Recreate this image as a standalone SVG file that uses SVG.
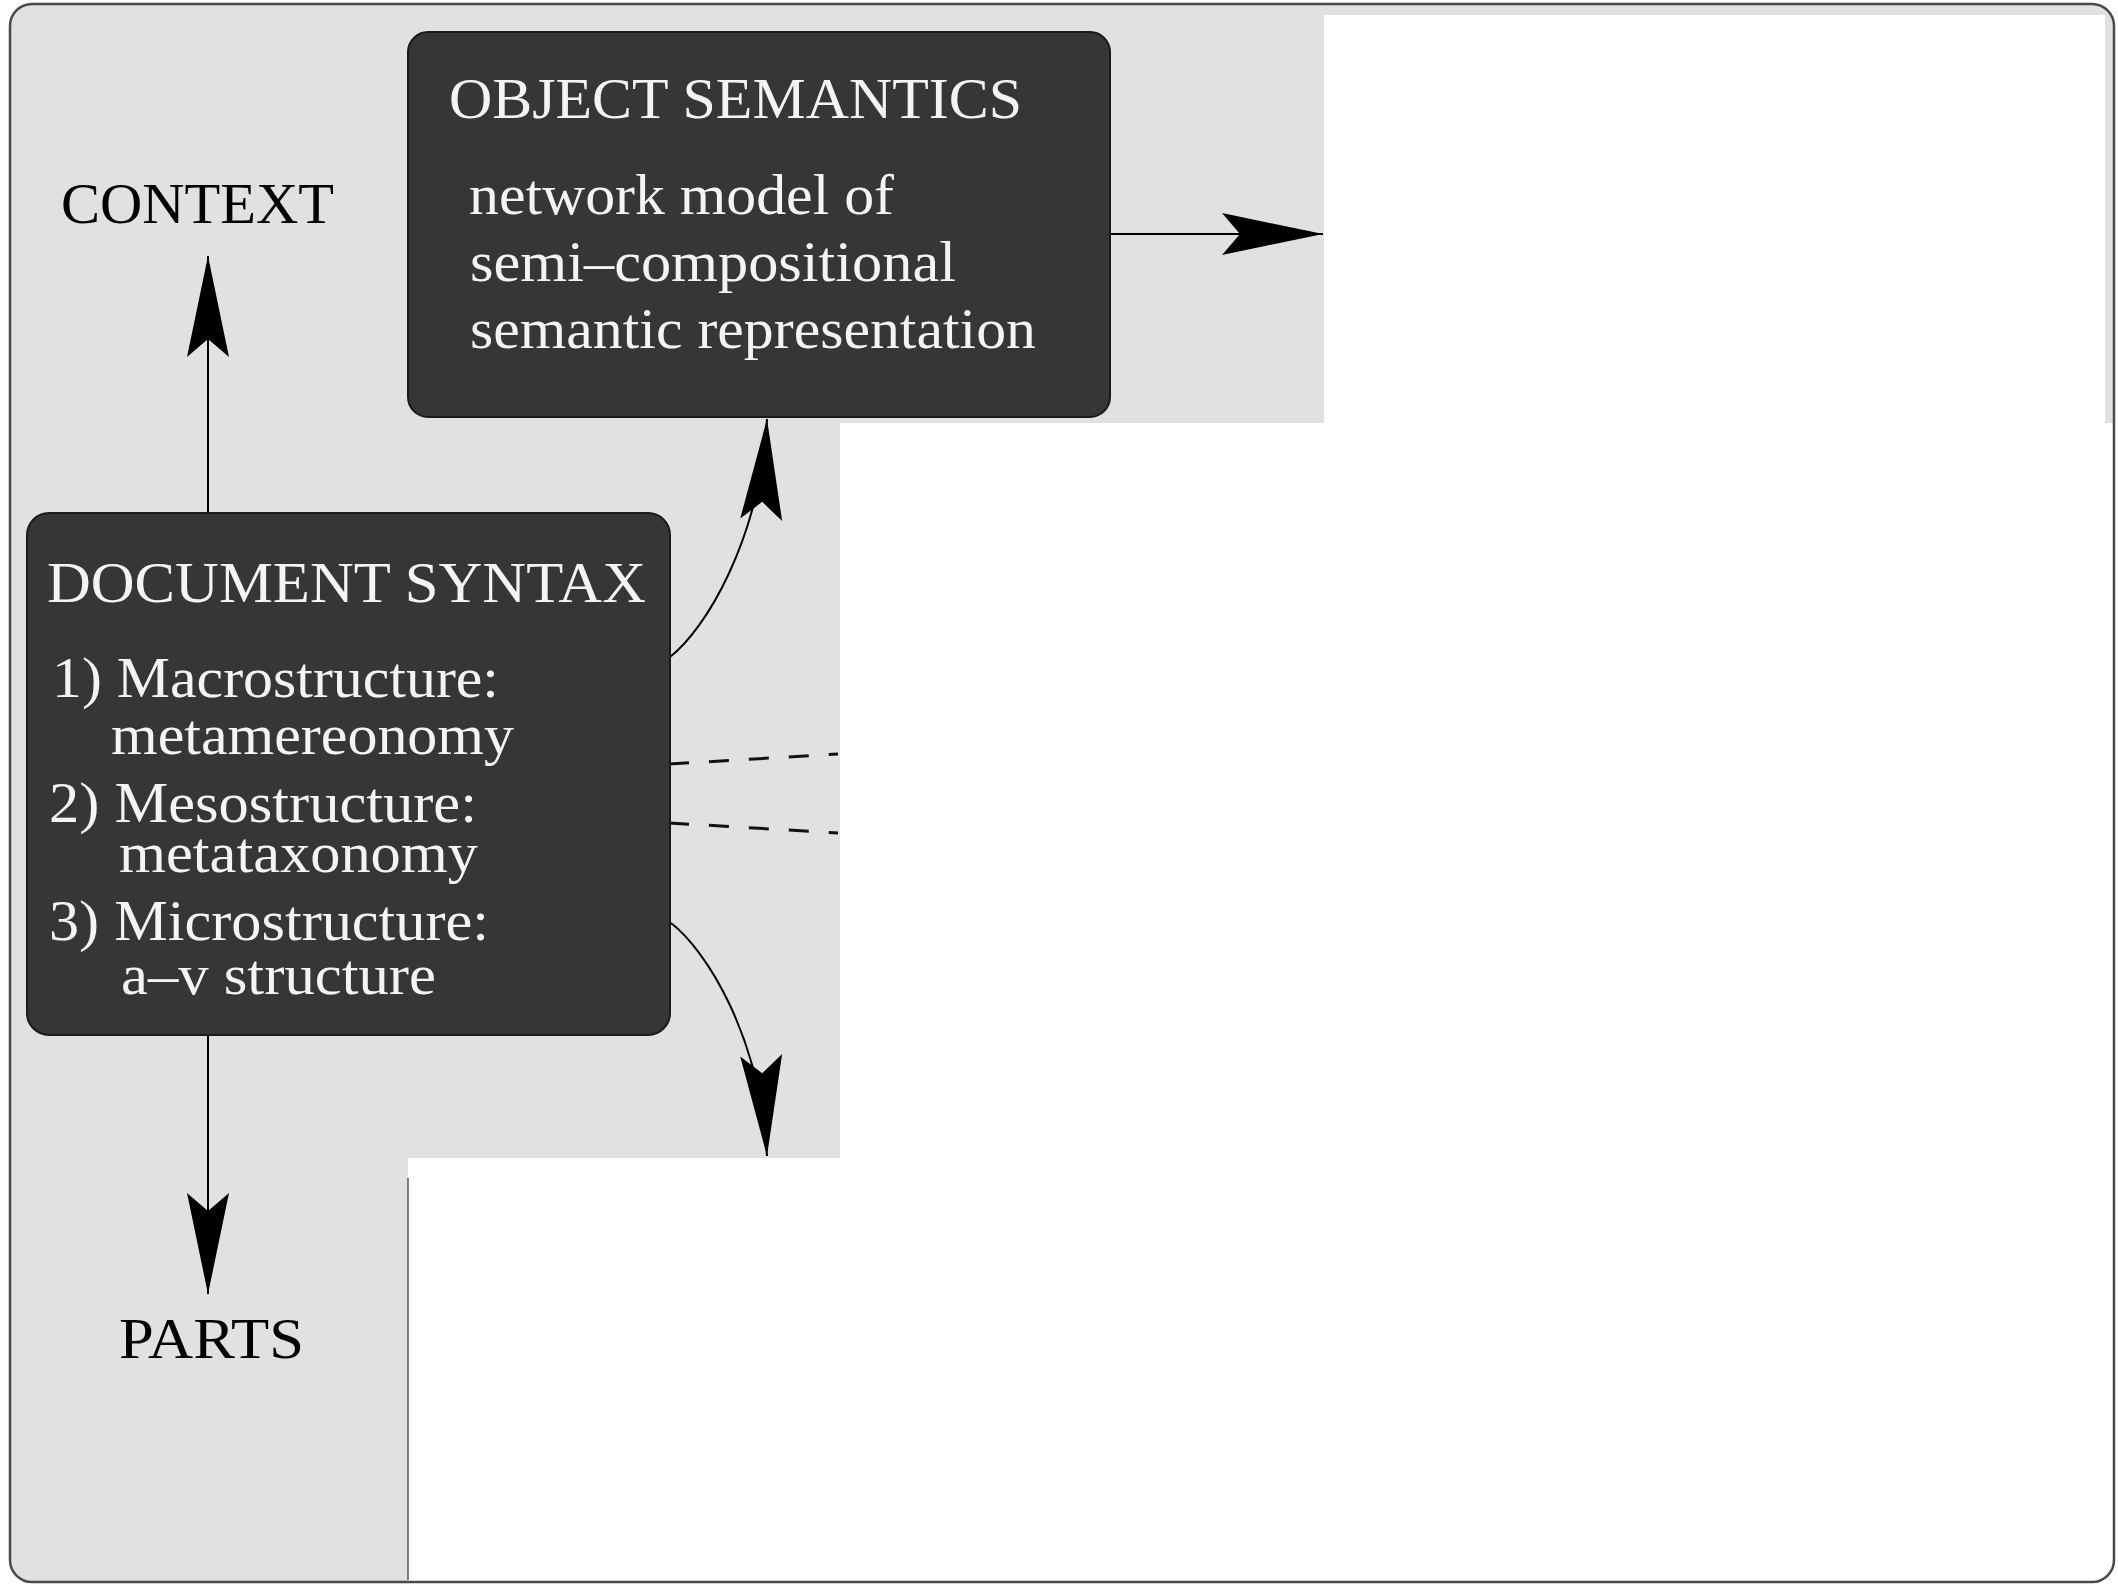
<svg xmlns="http://www.w3.org/2000/svg" width="2118" height="1587" viewBox="0 0 2118 1587">
<defs>
<marker id="ah" markerUnits="userSpaceOnUse" markerWidth="110" markerHeight="50" viewBox="-105 -25 110 50" refX="0" refY="0" orient="auto">
<path d="M0,0 L-101,-21 L-83,0 L-101,21 Z" fill="#000"/>
</marker>
</defs>
<style>
.lbl{font-family:"Liberation Serif","Times New Roman",serif;font-size:56px;fill:#000}
.wt{font-family:"Liberation Serif","Times New Roman",serif;font-size:56px;fill:#f4f4f4}
.box{fill:#363636;stroke:#1a1a1a;stroke-width:2}
.con{fill:none;stroke:#000;stroke-width:2}
.dash{fill:none;stroke:#111;stroke-width:3;stroke-dasharray:20 20}
.blank{fill:#fff}
</style>
<rect x="0" y="0" width="2118" height="1587" fill="#fff"/>
<rect x="10" y="4" width="2104" height="1578" rx="22" fill="#e1e1e1"/>
<rect class="blank" x="1324" y="15" width="781" height="408"/>
<rect class="blank" x="840" y="423" width="1276" height="735"/>
<rect class="blank" x="408" y="1158" width="1708" height="426"/>
<line x1="408" y1="1178" x2="408" y2="1580" stroke="#555" stroke-width="1.5"/>
<rect x="10" y="4" width="2104" height="1578" rx="22" fill="none" stroke="#4a4a4a" stroke-width="2.5"/>

<g id="connectors">
<path class="con" d="M208,513 L208,256" marker-end="url(#ah)"/>
<path class="con" d="M208,1035 L208,1294" marker-end="url(#ah)"/>
<path class="con" d="M1110,234 L1323,234" marker-end="url(#ah)"/>
<path class="con" d="M670,657 C705,630 760,540 767,419" marker-end="url(#ah)"/>
<path class="con" d="M671,923 C706,950 760,1035 767,1156" marker-end="url(#ah)"/>
<path class="dash" d="M669,764 L838,754"/>
<path class="dash" d="M669,823 L838,833"/>
</g>

<g id="object-semantics">
<rect class="box" x="408" y="32" width="702" height="385" rx="20"/>
<text class="wt" x="449" y="118" textLength="573" lengthAdjust="spacingAndGlyphs">OBJECT SEMANTICS</text>
<text class="wt" x="469" y="214" textLength="425" lengthAdjust="spacingAndGlyphs">network model of</text>
<text class="wt" x="470" y="281" textLength="486" lengthAdjust="spacingAndGlyphs">semi–compositional</text>
<text class="wt" x="470" y="348" textLength="566" lengthAdjust="spacingAndGlyphs">semantic representation</text>
</g>

<g id="document-syntax">
<rect class="box" x="27" y="513" width="643" height="522" rx="22"/>
<text class="wt" x="47" y="602" textLength="599" lengthAdjust="spacingAndGlyphs">DOCUMENT SYNTAX</text>
<text class="wt" x="52" y="697" textLength="447" lengthAdjust="spacingAndGlyphs">1) Macrostructure:</text>
<text class="wt" x="111" y="754" textLength="403" lengthAdjust="spacingAndGlyphs">metamereonomy</text>
<text class="wt" x="49" y="822" textLength="428" lengthAdjust="spacingAndGlyphs">2) Mesostructure:</text>
<text class="wt" x="119" y="872" textLength="359" lengthAdjust="spacingAndGlyphs">metataxonomy</text>
<text class="wt" x="49" y="940" textLength="440" lengthAdjust="spacingAndGlyphs">3) Microstructure:</text>
<text class="wt" x="121" y="994" textLength="315" lengthAdjust="spacingAndGlyphs">a–v structure</text>
</g>

<g id="context">
<text class="lbl" x="61" y="223" textLength="273" lengthAdjust="spacingAndGlyphs">CONTEXT</text>
</g>

<g id="parts">
<text class="lbl" x="119" y="1358" textLength="185" lengthAdjust="spacingAndGlyphs">PARTS</text>
</g>
</svg>
